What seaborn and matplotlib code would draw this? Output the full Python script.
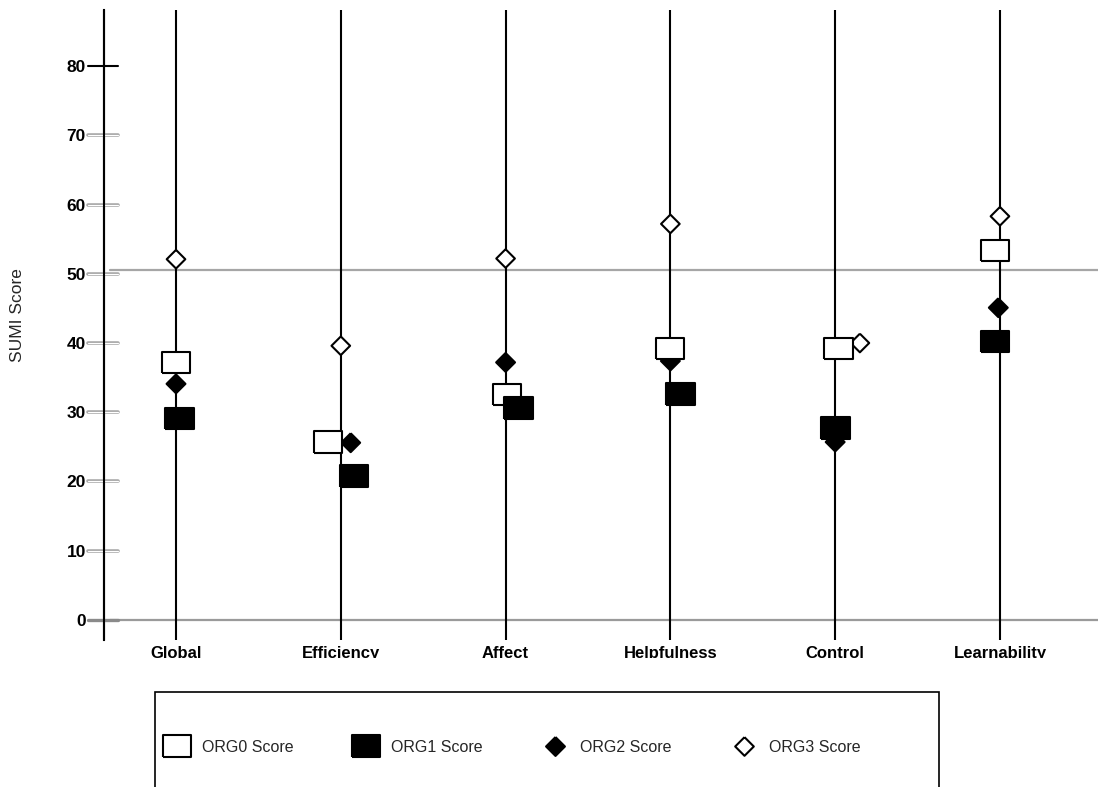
import numpy as np
import pandas as pd
import seaborn as sns
import matplotlib
matplotlib.use("Agg")
import matplotlib.pyplot as plt
from matplotlib.lines import Line2D
from matplotlib.patches import Rectangle
from matplotlib.transforms import blended_transform_factory

# ---------------- data ----------------
categories = ["Global", "Efficiency", "Affect", "Helpfulness", "Control", "Learnability"]
series = ["ORG0 Score", "ORG1 Score", "ORG2 Score", "ORG3 Score"]
org0 = [37.2, 25.7, 32.6, 39.2, 39.2, 53.4]
org1 = [29.1, 20.8, 30.6, 32.6, 27.7, 40.2]
org2 = [34.1, 25.6, 37.2, 37.4, 25.7, 45.1]
org3 = [52.1, 39.6, 52.2, 57.2, 40.0, 58.3]
reference_value = 50.6
y_ticks = [0, 10, 20, 30, 40, 50, 60, 70, 80]

# ---------------- layout / style ----------------
# small horizontal displacements used in the original to separate overlapping markers
offsets = {
    "ORG0 Score": [0.00, -0.08, 0.01, 0.00, 0.02, -0.03],
    "ORG1 Score": [0.02, 0.08, 0.08, 0.06, 0.00, -0.03],
    "ORG2 Score": [0.00, 0.06, 0.00, 0.00, 0.00, -0.01],
    "ORG3 Score": [0.00, 0.00, 0.00, 0.00, 0.15, 0.00],
}
rect = [(-1, -0.75), (1, -0.75), (1, 0.75), (-1, 0.75), (-1, -0.75)]
diamond = [(0, 1), (1, 0), (0, -1), (-1, 0), (0, 1)]
markers = {"ORG0 Score": rect, "ORG1 Score": rect, "ORG2 Score": diamond, "ORG3 Score": diamond}
faces = {"ORG0 Score": "white", "ORG1 Score": "black", "ORG2 Score": "black", "ORG3 Score": "white"}
sizes = {"ORG0 Score": 410, "ORG1 Score": 430, "ORG2 Score": 185, "ORG3 Score": 180}
draw_order = ["ORG3 Score", "ORG2 Score", "ORG0 Score", "ORG1 Score"]

values = {"ORG0 Score": org0, "ORG1 Score": org1, "ORG2 Score": org2, "ORG3 Score": org3}
rows = []
for s in draw_order:
    for i, c in enumerate(categories):
        rows.append({"series": s, "category": c, "pos": i + offsets[s][i], "score": values[s][i]})
df = pd.DataFrame(rows)

sns.set_theme(style="white")
plt.rcParams["font.family"] = ["Liberation Sans", "DejaVu Sans"]

W, H = 1098, 787
fig = plt.figure(figsize=(W / 100, H / 100), dpi=100)
ax_left, ax_right, ax_top, ax_bottom = 104, 1098, 10, 640
ax = fig.add_axes([ax_left / W, 1 - ax_bottom / H, (ax_right - ax_left) / W, (ax_bottom - ax_top) / H])

ncat = len(categories)
ax.set_xlim(-0.437, ncat - 1 + 0.595)
ax.set_ylim(-2.89, 88.09)

# vertical category lines
for i in range(ncat):
    ax.axvline(i, color="black", lw=1.5, zorder=1)

# horizontal lines
ax.axhline(0, xmin=(110 - ax_left) / (ax_right - ax_left), xmax=1, color="#9a9a9a", lw=1.6, zorder=0.5)
ax.axhline(reference_value, xmin=(110 - ax_left) / (ax_right - ax_left), xmax=1,
           color="#a6a6a6", lw=1.6, zorder=0.5)

sns.scatterplot(
    data=df, x="pos", y="score", hue="series", palette=faces,
    style="series", markers=markers, size="series", sizes=sizes,
    edgecolor="black", linewidth=1.5, legend=False, ax=ax, zorder=3,
)

# spines
for side in ["top", "right", "bottom"]:
    ax.spines[side].set_visible(False)
ax.spines["left"].set_color("black")
ax.spines["left"].set_linewidth(1.5)

# custom y ticks
ax.set_yticks(y_ticks)
ax.set_yticklabels([str(t) for t in y_ticks], fontweight="bold", fontsize=12.5, color="black")
ax.tick_params(axis="y", length=0, pad=13)
trans = blended_transform_factory(ax.transAxes, ax.transData)
x0 = (88 - ax_left) / (ax_right - ax_left)
x1 = (118 - ax_left) / (ax_right - ax_left)
for t in y_ticks:
    if t == y_ticks[-1]:
        ax.plot([x0, x1], [t, t], transform=trans, color="black", lw=1.5, clip_on=False, zorder=4)
    elif t == 0:
        ax.plot([x0, x1], [t, t], transform=trans, color="#8a8a8a", lw=2.4, clip_on=False, zorder=4)
    else:
        ax.plot([x0, x1], [t, t], transform=trans, color="#aaaaaa", lw=2.6, clip_on=False, zorder=4)
        ax.plot([x0, x1], [t, t], transform=trans, color="white", lw=0.8, clip_on=False, zorder=4.1)
# re-draw spine on top of tick marks
ax.plot([0, 0], [-2.89, 88.09], transform=trans, color="black", lw=1.5, clip_on=False, zorder=5)

ax.set_xticks(range(ncat))
ax.set_xticklabels(categories, fontweight="bold", fontsize=12, color="black")
ax.tick_params(axis="x", length=0, pad=4)
ax.set_xlabel("")
ax.set_ylabel("")

fig.text(18 / W, 1 - 315 / H, "SUMI Score", rotation=90, ha="center", va="center", fontsize=12.5)

# clip the bottom of the category labels like the original crop
fig.patches.append(Rectangle((ax_left / W, 1 - 690 / H), (ax_right - ax_left) / W, 32 / H,
                             transform=fig.transFigure, facecolor="white", edgecolor="none", zorder=10))

# legend box (extends below the figure edge)
fig.patches.append(Rectangle((155 / W, -0.02), (939 - 155) / W, (787 - 692) / H + 0.02,
                             transform=fig.transFigure, facecolor="none", edgecolor="black",
                             lw=1.2, zorder=11))

handles = [
    Line2D([], [], linestyle="none", marker=markers[s], markersize=np.sqrt(sizes[s]),
           markerfacecolor=faces[s], markeredgecolor="black", markeredgewidth=1.5)
    for s in series
]
leg = fig.legend(handles, series, ncol=4, frameon=False, loc="center left",
                 bbox_to_anchor=(163 / W, 1 - 747 / H), borderpad=0, borderaxespad=0,
                 handlelength=1.7, handletextpad=0.75, columnspacing=3.65, fontsize=11.5)
leg.set_zorder(12)

fig.savefig("out.png", dpi=100)
